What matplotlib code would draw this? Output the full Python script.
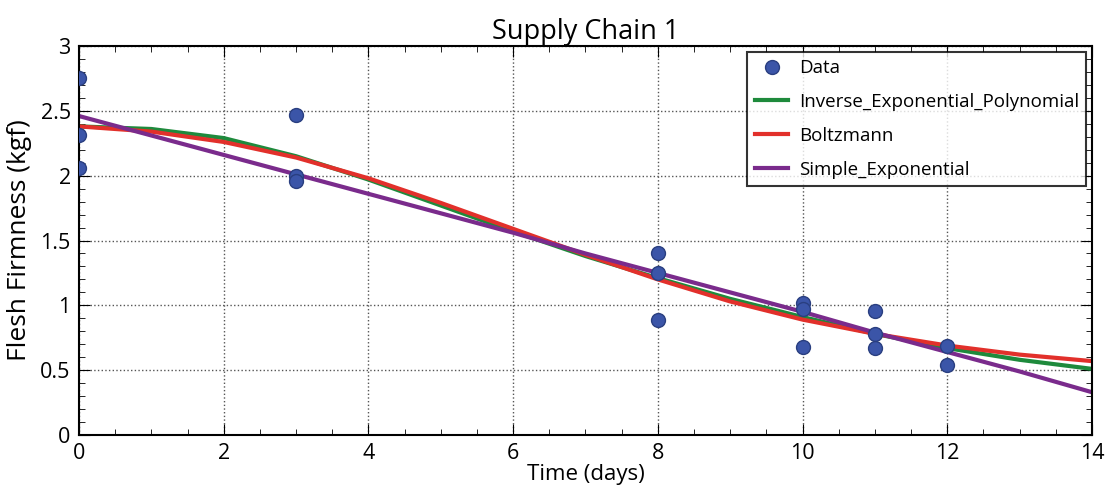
import matplotlib
matplotlib.use("Agg")
import matplotlib.pyplot as plt
from matplotlib.ticker import MultipleLocator

plt.rcParams['font.family'] = ['Open Sans', 'DejaVu Sans']

# measured data
data_t = [0, 0, 0, 3, 3, 3, 8, 8, 8, 10, 10, 10, 11, 11, 11, 12, 12]
data_y = [2.75, 2.31, 2.06, 2.47, 2.00, 1.96, 1.40, 1.25, 0.89,
          1.02, 0.97, 0.68, 0.96, 0.78, 0.67, 0.69, 0.54]

# fitted curves
t_fit = [0, 1, 2, 3, 4, 5, 6, 7, 8, 9, 10, 11, 12, 13, 14]
inv_exp_poly = [2.38, 2.36, 2.29, 2.15, 1.97, 1.77, 1.57, 1.38, 1.21, 1.05, 0.91, 0.78, 0.67, 0.58, 0.51]
boltzmann = [2.38, 2.34, 2.26, 2.14, 1.98, 1.79, 1.59, 1.39, 1.20, 1.03, 0.89, 0.78, 0.69, 0.62, 0.57]
simple_exp = [2.46, 2.31, 2.16, 2.01, 1.86, 1.71, 1.56, 1.40, 1.25, 1.10, 0.95, 0.79, 0.64, 0.49, 0.33]

fig = plt.figure(figsize=(11.09, 4.93), dpi=100)
ax = fig.add_axes([0.0712, 0.1176, 0.9135, 0.7891])

ax.plot(data_t, data_y, "o", ms=10, color="#3b55a8", mec="#2a3f80", zorder=3, label="Data")
ax.plot(t_fit, inv_exp_poly, color="#1e8a3c", lw=3, label="Inverse_Exponential_Polynomial")
ax.plot(t_fit, boltzmann, color="#e2302b", lw=3, label="Boltzmann")
ax.plot(t_fit, simple_exp, color="#7a2b8c", lw=3, label="Simple_Exponential")

ax.set_xlim(0, 14)
ax.set_ylim(0, 3)
ax.xaxis.set_major_locator(MultipleLocator(2))
ax.xaxis.set_minor_locator(MultipleLocator(0.5))
ax.yaxis.set_minor_locator(MultipleLocator(0.1))
ax.set_yticks([0, 0.5, 1, 1.5, 2, 2.5, 3])
ax.set_yticklabels(["0", "0.5", "1", "1.5", "2", "2.5", "3"])
ax.tick_params(which="both", direction="in", top=True, right=True, labelsize=15.5, pad=6)
ax.tick_params(which="major", length=8)
ax.tick_params(which="minor", length=4)
ax.grid(True, which="major", color="#555555", linestyle=":", lw=1)
for s in ax.spines.values():
    s.set_linewidth(1.5)

ax.set_xlabel("Time (days)", fontsize=16, labelpad=0)
ax.set_ylabel("Flesh Firmness (kgf)", fontsize=19, labelpad=6)
ax.set_title("Supply Chain 1", fontsize=19.5, pad=5)

leg = ax.legend(loc="upper right", fontsize=13.5, frameon=True, fancybox=False,
                borderaxespad=0.3, borderpad=0.4, handlelength=1.8, handletextpad=0.55,
                labelspacing=0.85, numpoints=1)
leg.get_frame().set_edgecolor("black")
leg.get_frame().set_linewidth(1.5)

fig.savefig("out.png", dpi=100)
